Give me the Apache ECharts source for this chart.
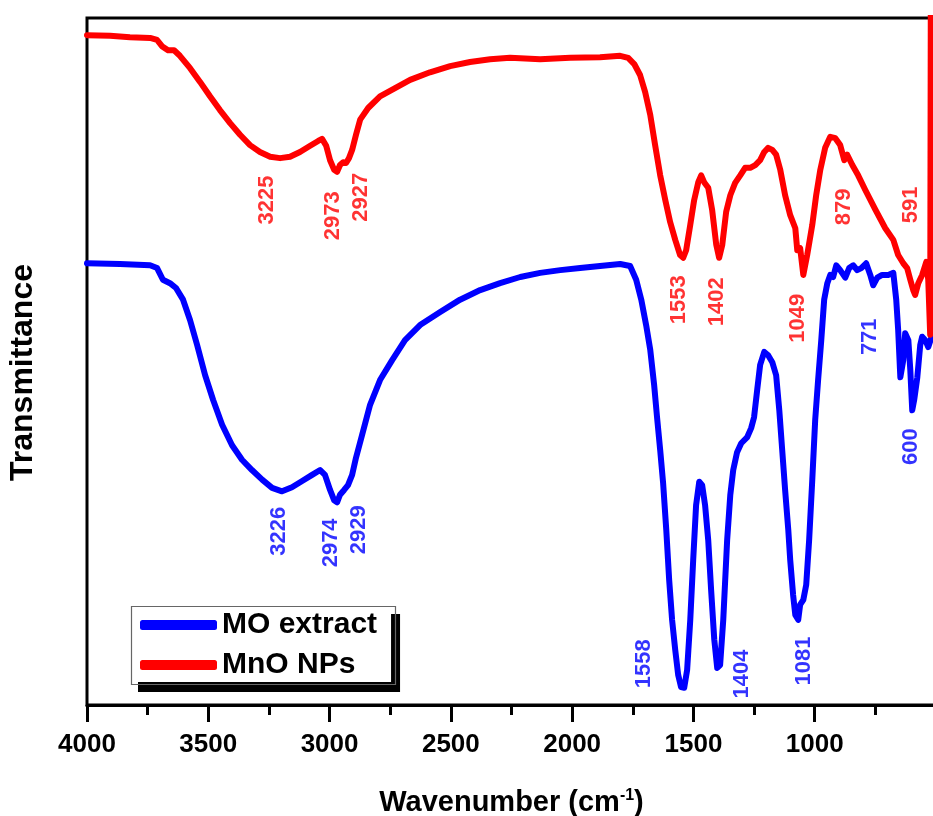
<!DOCTYPE html>
<html>
<head>
<meta charset="utf-8">
<script src="https://cdn.jsdelivr.net/npm/echarts@6/dist/echarts.min.js"></script>
<style>
html,body{margin:0;padding:0;background:#fff;}
#chart{width:933px;height:816px;}
</style>
</head>
<body>
<div id="chart"></div>
<script>
// MnO NPs (red) spectrum: wavenumber (cm-1) and transmittance (a.u.)
const redWn = [4000,3905,3823,3740,3711,3691,3666,3641,3617,3575,3534,3493,3452,3410,3369,3328,3287,3245,3204,3163,3122,3080,3047,3031,3014,2998,2981,2969,2957,2944,2932,2920,2907,2891,2874,2841,2792,2730,2668,2586,2503,2421,2338,2256,2132,2008,1885,1802,1769,1744,1720,1699,1678,1658,1637,1616,1596,1575,1555,1542,1530,1513,1497,1480,1468,1456,1439,1423,1406,1394,1381,1365,1348,1328,1307,1287,1266,1245,1225,1208,1192,1175,1159,1142,1122,1101,1080,1072,1060,1047,1031,1010,994,977,957,936,915,895,878,866,845,821,792,750,709,676,656,635,619,606,594,586,573,557,540,532,524,520];
const redT  = [97.5,97.4,97.2,97.1,96.8,95.9,95.3,95.3,94.5,92.7,90.7,88.6,86.6,84.7,83.0,81.5,80.5,79.8,79.6,79.8,80.5,81.4,82.1,82.4,81.4,79.3,77.9,77.6,78.6,79.0,78.9,79.6,80.8,83.0,85.2,86.9,88.6,89.8,91.0,92.1,93.0,93.6,94.0,94.2,94.0,94.2,94.3,94.5,94.2,93.3,91.7,89.2,85.9,81.5,77.1,73.5,70.3,67.7,65.5,65.1,66.2,69.9,73.5,76.1,77.1,76.1,75.3,72.1,67.0,65.1,67.0,71.8,74.2,76.0,77.1,78.2,78.2,78.6,79.3,80.5,81.1,80.8,80.1,77.9,74.2,71.3,69.4,66.2,66.5,62.6,65.5,69.9,74.2,77.9,81.1,82.7,82.5,81.5,79.3,80.1,78.6,77.1,75.0,72.1,69.4,67.7,65.5,64.3,63.6,61.9,60.4,59.7,61.4,62.6,64.5,61.9,53.9,130];

// MO extract (blue) spectrum
const blueWn = [4000,3864,3740,3711,3687,3658,3633,3604,3575,3546,3513,3480,3443,3402,3361,3320,3278,3237,3196,3155,3113,3072,3039,3019,2998,2981,2969,2957,2940,2924,2907,2891,2866,2833,2792,2742,2689,2627,2544,2462,2379,2297,2214,2132,2049,1967,1885,1802,1761,1736,1715,1695,1678,1662,1650,1637,1625,1612,1600,1588,1575,1563,1551,1538,1526,1513,1501,1489,1476,1464,1452,1439,1427,1414,1402,1390,1377,1361,1348,1336,1320,1303,1278,1262,1250,1237,1225,1208,1192,1175,1159,1146,1134,1122,1109,1101,1089,1080,1068,1060,1047,1035,1023,1010,998,986,973,961,948,936,924,911,895,874,858,841,825,808,788,771,759,742,722,697,676,664,656,647,635,627,614,606,598,590,577,565,557,544,532,520];
const blueT  = [64.3,64.2,64.0,63.6,61.9,61.4,60.7,59.0,56.0,52.4,48.0,44.4,40.8,37.8,35.7,34.2,32.8,31.6,31.1,31.7,32.6,33.5,34.2,33.5,31.3,29.8,29.5,30.6,31.3,32.0,33.5,36.0,39.3,43.7,47.3,50.2,53.1,55.3,57.2,59.0,60.4,61.4,62.3,62.9,63.3,63.6,63.9,64.2,63.9,61.9,59.0,55.3,51.7,46.6,41.9,37.1,32.3,25.5,18.2,12.4,8.0,4.4,2.6,2.5,5.1,12.4,21.1,29.1,32.5,32.0,29.1,24.0,16.7,9.5,5.4,5.8,12.4,24.0,30.6,34.2,36.8,38.1,39.0,40.3,41.9,45.9,49.5,51.4,50.9,49.9,48.0,42.9,37.1,31.3,25.5,21.1,16.0,13.1,12.4,14.6,15.3,17.5,24.0,32.8,41.5,47.3,53.1,59.0,61.4,62.6,62.3,64.0,63.3,62.2,63.6,64.0,63.3,63.6,64.3,62.6,61.1,62.2,62.6,62.6,62.9,59.0,54.6,47.7,50.2,54.1,53.1,48.8,42.9,44.4,47.7,52.4,53.6,53.1,52.1,53.4];

// Peak annotations (label text and its anchor in data coordinates)
const redPeakText = ['3225','2973','2927','1553','1402','1049','879','591'];
const redPeakWn   = [3258,2986,2870,1559,1402,1068,878,602];
const redPeakT    = [73.5,71.2,73.9,59.0,58.7,56.3,72.5,72.8];
const bluePeakText = ['3226','2974','2929','1558','1404','1081','771','600'];
const bluePeakWn   = [3208,2994,2878,1703,1299,1043,771,602];
const bluePeakT    = [25.3,23.6,25.5,6.0,4.5,6.4,53.6,37.6];

const xTicksMin = 500, xTicksMax = 4000, xTickStep = 500;

const zip = (a, b) => a.map((v, i) => [v, b[i]]);
const peaks = (w, t, s) => w.map((v, i) => [v, t[i], s[i]]);
const FONT = '"Liberation Sans", Arial, sans-serif';

const chart = echarts.init(document.getElementById('chart'), null, {renderer: 'canvas'});
chart.setOption({
  animation: false,
  backgroundColor: '#fff',
  grid: {left: 87, top: 18, width: 849, bottom: 111, outerBoundsMode: 'none', containLabel: false,
    show: true, borderColor: '#000', borderWidth: 3, backgroundColor: 'transparent'},
  xAxis: {
    type: 'value', inverse: true, min: xTicksMin, max: xTicksMax, interval: xTickStep,
    axisLine: {show: true, lineStyle: {color: '#000', width: 3}},
    axisTick: {show: true, inside: false, length: 17, lineStyle: {color: '#000', width: 3}},
    minorTick: {show: true, splitNumber: 2, length: 10, lineStyle: {color: '#000', width: 3}},
    splitLine: {show: false},
    axisLabel: {color: '#000', fontSize: 26, fontWeight: 'bold', fontFamily: FONT, margin: 27,
      formatter: v => (v < 1000 ? '' : String(v))},
    name: '{a|Wavenumber (cm}{s|-1}{a|)}',
    nameLocation: 'middle', nameGap: 83,
    nameTextStyle: {rich: {
      a: {fontSize: 29, fontWeight: 'bold', color: '#000', fontFamily: FONT},
      s: {fontSize: 16, fontWeight: 'bold', color: '#000', fontFamily: FONT, verticalAlign: 'top', padding: [0, 0, 14, 0]}
    }}
  },
  yAxis: {
    type: 'value', min: 0, max: 100,
    axisLine: {show: false}, axisTick: {show: false}, axisLabel: {show: false}, splitLine: {show: false},
    name: 'Transmittance', nameLocation: 'middle', nameGap: 48, nameRotate: 90,
    nameTextStyle: {fontSize: 32, fontWeight: 'bold', color: '#000', fontFamily: FONT, padding: [0, 22, 0, 0]}
  },
  legend: {
    data: ['MO extract', 'MnO NPs'], orient: 'vertical', left: 129, top: 604,
    icon: 'roundRect', itemWidth: 77, itemHeight: 10, itemGap: 10,
    textStyle: {fontSize: 30, fontWeight: 'bold', color: '#000', fontFamily: FONT},
    backgroundColor: '#fff', borderWidth: 0,
    padding: [6, 14, 2, 11],
    shadowColor: '#000', shadowBlur: 0, shadowOffsetX: 9, shadowOffsetY: 10
  },
  graphic: [{
    type: 'rect', left: 129, top: 604, z: 100, silent: true,
    shape: {width: 264, height: 78},
    style: {fill: 'none', stroke: '#666', lineWidth: 1.2}
  }],
  series: [
    {name: 'MO extract', type: 'line', data: zip(blueWn, blueT), showSymbol: false, symbol: 'none',
      lineStyle: {color: '#0000ff', width: 6, join: 'round', cap: 'round'}, itemStyle: {color: '#0000ff'}},
    {name: 'MnO NPs', type: 'line', data: zip(redWn, redT), showSymbol: false, symbol: 'none',
      lineStyle: {color: '#ff0000', width: 6, join: 'round', cap: 'round'}, itemStyle: {color: '#ff0000'}},
    {name: 'redPeaks', type: 'scatter', data: peaks(redPeakWn, redPeakT, redPeakText), symbolSize: 1,
      itemStyle: {color: 'rgba(0,0,0,0)'}, silent: true,
      label: {show: true, position: 'inside', rotate: 90, formatter: p => p.data[2], color: '#ff0000', fontSize: 22, fontWeight: 'bold', fontFamily: FONT}},
    {name: 'bluePeaks', type: 'scatter', data: peaks(bluePeakWn, bluePeakT, bluePeakText), symbolSize: 1,
      itemStyle: {color: 'rgba(0,0,0,0)'}, silent: true,
      label: {show: true, position: 'inside', rotate: 90, formatter: p => p.data[2], color: '#0000ff', fontSize: 22, fontWeight: 'bold', fontFamily: FONT}}
  ]
});
</script>
</body>
</html>
